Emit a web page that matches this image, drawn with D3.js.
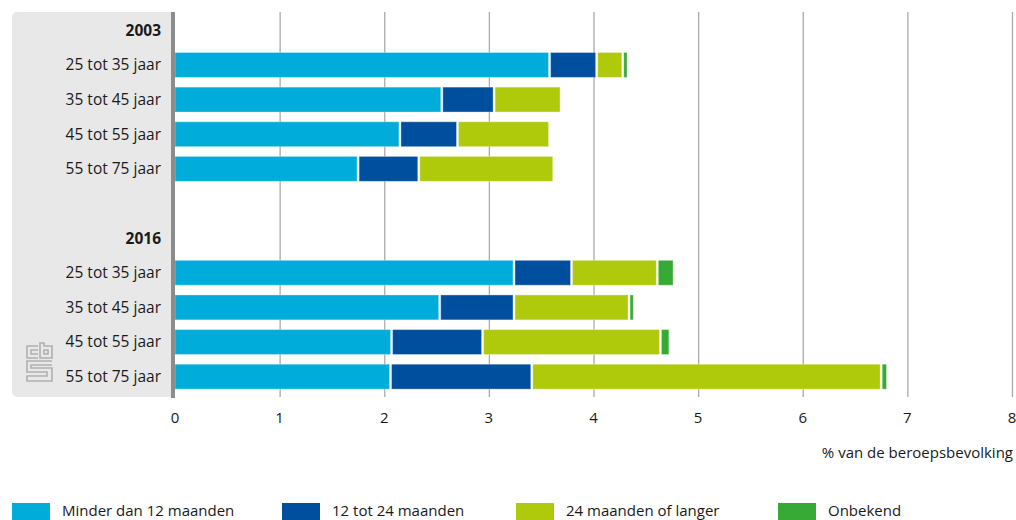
<!DOCTYPE html>
<html><head><meta charset="utf-8">
<script src="https://cdn.jsdelivr.net/npm/d3@7"></script>
<style>
body{margin:0;background:#fff;}
text{font-family:"Open Sans",sans-serif;}
</style></head>
<body><svg id="c" width="1016" height="520"></svg>
<script>
const rows = ["h2003","2003|25 tot 35 jaar","2003|35 tot 45 jaar","2003|45 tot 55 jaar","2003|55 tot 75 jaar","blank","h2016","2016|25 tot 35 jaar","2016|35 tot 45 jaar","2016|45 tot 55 jaar","2016|55 tot 75 jaar"];
const rowLabels = ["2003","25 tot 35 jaar","35 tot 45 jaar","45 tot 55 jaar","55 tot 75 jaar","","2016","25 tot 35 jaar","35 tot 45 jaar","45 tot 55 jaar","55 tot 75 jaar"];
const barRows = ["2003|25 tot 35 jaar","2003|35 tot 45 jaar","2003|45 tot 55 jaar","2003|55 tot 75 jaar","2016|25 tot 35 jaar","2016|35 tot 45 jaar","2016|45 tot 55 jaar","2016|55 tot 75 jaar"];
const seriesNames = ["Minder dan 12 maanden","12 tot 24 maanden","24 maanden of langer","Onbekend"];
const minder12 = [3.58,2.55,2.15,1.75,3.24,2.53,2.07,2.06];
const tot24 = [0.45,0.50,0.55,0.58,0.55,0.71,0.87,1.35];
const langer24 = [0.25,0.64,0.88,1.29,0.82,1.10,1.70,3.34];
const onbekend = [0.05,0,0,0,0.16,0.05,0.09,0.06];
const colors = ["#00acd9","#004f9e","#afca0b","#37a935"];
const xTicks = [0,1,2,3,4,5,6,7,8];
const axisTitle = "% van de beroepsbevolking";

const svg = d3.select("#c");
const x = d3.scaleLinear().domain([0,8]).range([175,1012]);
const y = d3.scaleBand().domain(rows).range([13,394]).paddingInner(0.28).paddingOuter(0.14);

// label panel
svg.append("rect").attr("x",12).attr("y",12).attr("width",170).attr("height",385).attr("rx",5).attr("fill","#e8e8e8");
svg.append("rect").attr("x",171).attr("y",12).attr("width",845).attr("height",386).attr("fill","#fff");

// gridlines
svg.append("g").selectAll("line").data(xTicks.slice(1)).join("line")
  .attr("x1",d=>x(d)+0.5).attr("x2",d=>x(d)+0.5).attr("y1",12).attr("y2",397)
  .attr("stroke","#ababab").attr("stroke-width",1.3);

// bars
const table = barRows.map((r,i)=>({row:r, vals:[minder12[i],tot24[i],langer24[i],onbekend[i]]}));
const stacked = d3.stack().keys([0,1,2,3]).value((d,k)=>d.vals[k])(table);
svg.append("g").selectAll("g").data(stacked).join("g").attr("fill",(d,i)=>colors[i])
  .selectAll("rect").data(d=>d.filter(p=>p[1]-p[0]>0.001)).join("rect")
  .attr("x",d=>x(d[0])+(d[0]>0?1:0))
  .attr("width",d=>Math.max(1,x(d[1])-x(d[0])-(d[0]>0?2:1)))
  .attr("y",d=>y(d.data.row)).attr("height",y.bandwidth())
  .attr("stroke","#ffffff").attr("stroke-opacity",0.35).attr("stroke-width",1);

// axis line
svg.append("rect").attr("x",171).attr("y",12).attr("width",4).attr("height",386).attr("fill","#8c8c8c");

// row labels
svg.append("g").selectAll("text").data(rows).join("text")
  .attr("x",161).attr("y",d=>y(d)+y.bandwidth()/2).attr("dy","0.35em")
  .attr("text-anchor","end").attr("font-size",15.5).attr("fill","#1a1a1a")
  .attr("font-weight",(d,i)=>d.startsWith("h")?"bold":"normal")
  .text((d,i)=>rowLabels[i]);

// x tick labels
svg.append("g").selectAll("text").data(xTicks).join("text")
  .attr("x",d=>x(d)).attr("y",423).attr("text-anchor","middle").attr("font-size",15).attr("fill","#1a1a1a")
  .text(d=>d);
svg.append("text").attr("x",1013).attr("y",458).attr("text-anchor","end").attr("font-size",15).attr("fill","#1a1a1a").text(axisTitle);

// legend
const legX = [12,282,516,778];
const lg = svg.append("g").selectAll("g").data(seriesNames).join("g").attr("transform",(d,i)=>`translate(${legX[i]},503)`);
lg.append("rect").attr("width",38).attr("height",18).attr("fill",(d,i)=>colors[i]);
lg.append("text").attr("x",50).attr("y",13).attr("font-size",15).attr("fill","#1a1a1a").text(d=>d);

// CBS logo
const logo = svg.append("g").attr("transform","translate(26,343)").attr("fill","none").attr("stroke","#b0b0b0").attr("stroke-width",1.6);
logo.append("path").attr("d","M12,3 H1 V15 H12 M12,7 H5 V11 H12");
logo.append("path").attr("d","M14,0 V15 H26 V3 H18 V0 Z M18,7 H22 V11 H18 Z");
logo.append("path").attr("d","M26,18 H1 V29 H21 V33 H1 V38 H26 V25 H5 V22 H26");
</script></body></html>
